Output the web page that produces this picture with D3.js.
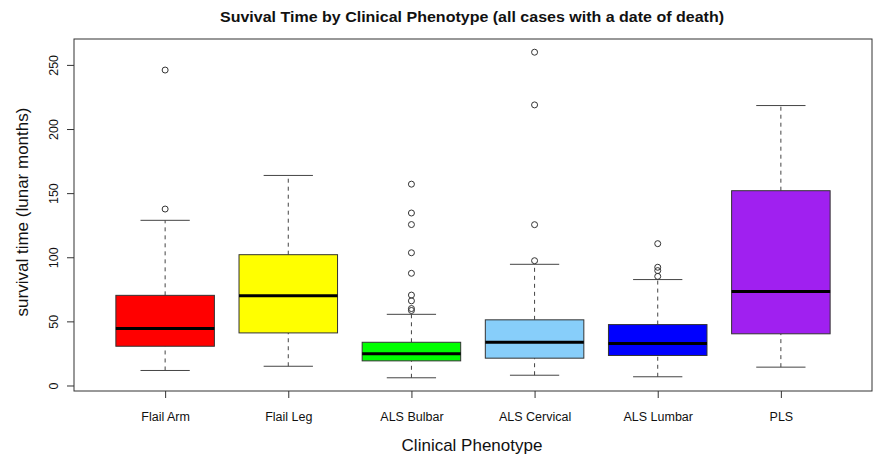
<!DOCTYPE html>
<html>
<head>
<meta charset="utf-8">
<script src="https://cdn.jsdelivr.net/npm/d3@7"></script>
<style>
  html, body { margin: 0; padding: 0; background: #fff; }
  svg { display: block; font-family: "Liberation Sans", Arial, Helvetica, sans-serif; }
</style>
</head>
<body>
<svg id="chart" width="876" height="458"></svg>
<script>
// ---- data ----
const categories  = ["Flail Arm", "Flail Leg", "ALS Bulbar", "ALS Cervical", "ALS Lumbar", "PLS"];
const boxColors   = ["#FF0000", "#FFFF00", "#00FF00", "#87CEFA", "#0000FF", "#A020F0"];
const whiskerLow  = [11.7, 15.0, 6.0, 8.0, 6.8, 14.3];
const q1          = [30.6, 41.0, 19.2, 21.3, 23.4, 40.3];
const medians     = [44.4, 69.9, 24.7, 33.7, 32.7, 73.2];
const q3          = [70.3, 102.0, 33.7, 51.2, 47.5, 151.9];
const whiskerHigh = [128.8, 163.8, 55.5, 94.5, 82.6, 218.3];
const outliers    = [
  [137.6, 246.0],
  [],
  [157.0, 134.5, 125.5, 103.5, 87.5, 70.5, 66.0, 60.0, 58.5],
  [97.3, 125.4, 218.8, 259.9],
  [110.6, 92.2, 89.6, 85.1],
  []
];
const yTicks = [0, 50, 100, 150, 200, 250];
const titleText = "Suvival Time by Clinical Phenotype (all cases with a date of death)";
const xTitle = "Clinical Phenotype";
const yTitle = "survival time (lunar months)";

// ---- layout ----
const FONT = '"Liberation Sans", Arial, Helvetica, sans-serif';
const plot = { left: 74, right: 872, top: 39, bottom: 391 };
const svg = d3.select("#chart");

const x = d3.scalePoint().domain(categories).range([plot.left, plot.right]).padding(0.74);
const y = d3.scaleLinear().domain([-4.3, 270.2]).range([plot.bottom, plot.top]);
const boxW = x.step() * 0.8;
const capW = boxW * 0.5;

const rows = categories.map((c, i) => ({
  cat: c, color: boxColors[i], lo: whiskerLow[i], q1: q1[i], med: medians[i],
  q3: q3[i], hi: whiskerHigh[i], out: outliers[i]
}));

const g = svg.append("g");

// whiskers (dashed)
g.selectAll(".wl").data(rows).join("line")
  .attr("x1", d => x(d.cat)).attr("x2", d => x(d.cat))
  .attr("y1", d => y(d.lo)).attr("y2", d => y(d.q1))
  .attr("stroke", "#444").attr("stroke-width", 1).attr("stroke-dasharray", "4,4");
g.selectAll(".wh").data(rows).join("line")
  .attr("x1", d => x(d.cat)).attr("x2", d => x(d.cat))
  .attr("y1", d => y(d.q3)).attr("y2", d => y(d.hi))
  .attr("stroke", "#444").attr("stroke-width", 1).attr("stroke-dasharray", "4,4");

// staples
["lo", "hi"].forEach(k => {
  g.selectAll(".cap-" + k).data(rows).join("line")
    .attr("x1", d => x(d.cat) - capW / 2).attr("x2", d => x(d.cat) + capW / 2)
    .attr("y1", d => y(d[k])).attr("y2", d => y(d[k]))
    .attr("stroke", "#444").attr("stroke-width", 1);
});

// boxes
g.selectAll(".box").data(rows).join("rect")
  .attr("x", d => x(d.cat) - boxW / 2).attr("width", boxW)
  .attr("y", d => y(d.q3)).attr("height", d => y(d.q1) - y(d.q3))
  .attr("fill", d => d.color).attr("stroke", "#333").attr("stroke-width", 1);

// medians
g.selectAll(".med").data(rows).join("line")
  .attr("x1", d => x(d.cat) - boxW / 2).attr("x2", d => x(d.cat) + boxW / 2)
  .attr("y1", d => y(d.med)).attr("y2", d => y(d.med))
  .attr("stroke", "#000").attr("stroke-width", 3);

// outliers
const outPts = rows.flatMap(d => d.out.map(v => ({ cat: d.cat, v })));
g.selectAll(".out").data(outPts).join("circle")
  .attr("cx", d => x(d.cat)).attr("cy", d => y(d.v)).attr("r", 3)
  .attr("fill", "none").attr("stroke", "#333").attr("stroke-width", 1);

// plot frame
svg.append("rect")
  .attr("x", plot.left).attr("y", plot.top)
  .attr("width", plot.right - plot.left).attr("height", plot.bottom - plot.top)
  .attr("fill", "none").attr("stroke", "#333").attr("stroke-width", 1);

// y axis
const ya = svg.append("g").attr("transform", `translate(${plot.left},0)`)
  .call(d3.axisLeft(y).tickValues(yTicks).tickSize(7).tickFormat(d3.format("d")))
  .attr("font-family", FONT).attr("font-size", 12.5);
ya.select(".domain").remove();
ya.selectAll(".tick line").attr("stroke", "#333");
ya.selectAll(".tick text")
  .attr("x", null).attr("dy", null)
  .attr("transform", "translate(-16.5,0) rotate(-90)")
  .attr("text-anchor", "middle")
  .attr("fill", "#111");

// x axis
const xa = svg.append("g").attr("transform", `translate(0,${plot.bottom})`)
  .call(d3.axisBottom(x).tickSize(7))
  .attr("font-family", FONT).attr("font-size", 12.5);
xa.select(".domain").remove();
xa.selectAll(".tick line").attr("stroke", "#333");
xa.selectAll(".tick text")
  .attr("y", 29.5).attr("dy", null)
  .attr("fill", "#111");

// titles
svg.append("text")
  .attr("x", 472).attr("y", 22)
  .attr("text-anchor", "middle")
  .attr("textLength", 504).attr("lengthAdjust", "spacingAndGlyphs")
  .style("font-size", "15.5px").style("font-weight", "bold")
  .attr("fill", "#111")
  .text(titleText);

svg.append("text")
  .attr("x", 472).attr("y", 451)
  .attr("text-anchor", "middle")
  .style("font-size", "17px")
  .attr("fill", "#111")
  .text(xTitle);

svg.append("text")
  .attr("transform", `translate(28,212) rotate(-90)`)
  .attr("text-anchor", "middle")
  .style("font-size", "17px")
  .attr("fill", "#111")
  .text(yTitle);
</script>
</body>
</html>
